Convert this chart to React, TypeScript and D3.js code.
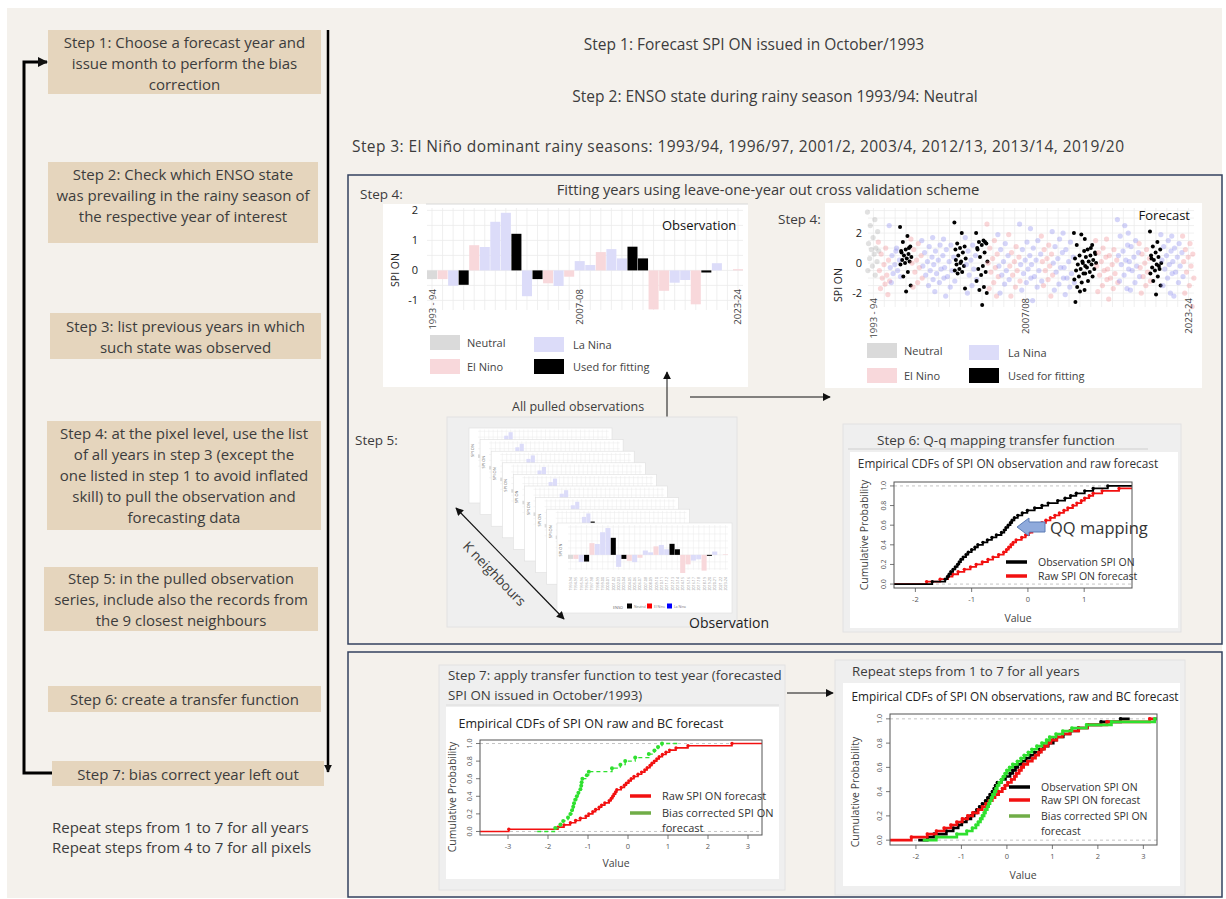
"use client";

import React, { useRef, useEffect } from "react";
import * as d3 from "d3";

const FONT = "'Open Sans', Lato, 'DejaVu Sans', sans-serif";
const INK = "#3c3c3c";

// ---- left column: the procedure
const step1Text = ["Step 1: Choose a forecast year and", "issue month to perform the bias", "correction"];
const step2Text = ["Step 2: Check which ENSO state", "was prevailing in the rainy season of", "the respective year of interest"];
const step3Text = ["Step 3: list previous years in which", "such state was observed"];
const step4Text = [
    "Step 4: at the pixel level, use the list",
    "of all years in step 3 (except the",
    "one listed in step 1 to avoid inflated",
    "skill) to pull the observation and",
    "forecasting data",
];
const step5Text = ["Step 5: in the pulled observation", "series, include also the records from", "the 9 closest neighbours"];
const step6Text = ["Step 6: create a transfer function"];
const step7Text = ["Step 7: bias correct year left out"];
const stepTexts = [step1Text, step2Text, step3Text, step4Text, step5Text, step6Text, step7Text];
const repeatText = ["Repeat steps from 1 to 7 for all years", "Repeat steps from 4 to 7 for all pixels"];

// ---- headline statements
const headline1 = "Step 1: Forecast SPI ON issued in October/1993";
const headline2 = "Step 2: ENSO state during rainy season 1993/94: Neutral";
const headline3 = "Step 3: El Niño dominant rainy seasons: 1993/94, 1996/97, 2001/2, 2003/4, 2012/13, 2013/14, 2019/20";

// ---- seasons, ENSO state (N neutral, E El Nino, L La Nina, F used for fitting)
const seasons = [
    "1993-94", "1994-95", "1995-96", "1996-97", "1997-98", "1998-99", "1999-00", "2000-01", "2001-02", "2002-03",
    "2003-04", "2004-05", "2005-06", "2006-07", "2007-08", "2008-09", "2009-10", "2010-11", "2011-12", "2012-13",
    "2013-14", "2014-15", "2015-16", "2016-17", "2017-18", "2018-19", "2019-20", "2020-21", "2021-22", "2023-24",
];
const ensoState = ["N", "E", "L", "F", "E", "L", "L", "L", "F", "L", "F", "E", "L", "E", "L", "L", "E", "L", "L", "F", "F", "E", "E", "L", "L", "E", "F", "L", "L", "E"];
const seasonTicks = ["1993-94", "2007-08", "2023-24"];
const seasonTickLabels = ["1993 - 94", "2007-08", "2023-24"];
const legendNames = ["Neutral", "El Nino", "La Nina", "Used for fitting"];

// observed SPI ON per season
const obsSpi = [-0.29, -0.29, -0.51, -0.48, 0.84, 0.78, 1.62, 1.92, 1.22, -0.86, -0.29, -0.43, -0.52, -0.21, 0.31, 0.18, 0.61, 0.71, 0.4, 0.79, 0.4, -1.3, -0.68, -0.41, -0.32, -1.13, -0.07, 0.24, 0, 0.04];

// forecast SPI ON ensemble members per season
const fcstSpi = [
    [3.4, 2.9, 2.5, 2.1, 1.7, 1.3, 1.0, 0.9, 0.8, 0.6, 0.3, 0.1, -0.2, -0.5, -0.8],
    [1.4, 1.0, 0.6, 0.2, -0.1, -0.5, -0.8, -1.0, -1.2, -1.4, -1.7, -2.1],
    [2.5, 1.0, 0.5, 0.2, -0.1, -0.3, -0.5, -0.7, -0.9, 0.8, -1.3],
    [2.4, 1.8, 1.4, 1.1, 0.9, 0.8, 0.6, 0.5, 0.4, 0.3, 0.2, 0.1, 0.0, -0.1, -0.6, -0.9, -1.5, -1.9, 0.7, 1.0],
    [1.6, 1.3, 0.9, 0.5, 0.2, 0.0, -0.3, -0.6, -1.0, -1.3, -1.6],
    [1.5, 1.1, 0.7, 0.4, 0.1, -0.2, -0.5, -0.8, -1.1, -1.5],
    [1.7, 1.2, 0.8, 0.5, 0.2, -0.1, -0.4, -0.7, -1.0, -1.3, -1.9],
    [1.6, 1.2, 0.9, 0.4, 0.1, -0.3, -0.5, -0.9, -1.2, -1.6, -2.2],
    [2.7, 2.0, 1.3, 1.1, 1.0, 0.9, 0.7, 0.5, 0.3, 0.1, -0.1, -0.2, -0.4, -0.5, -0.6, -0.7, -1.7, 0.0, 0.2],
    [1.7, 1.2, 0.8, 0.5, 0.2, -0.1, -0.4, -0.8, -1.1, -1.5, -2.0],
    [2.0, 1.5, 1.4, 1.3, 1.2, 1.0, 0.7, 0.4, 0.1, -0.2, -0.4, -0.6, -0.8, -1.2, -1.6, -1.8, -2.0, -2.8, 0.9, 1.4],
    [2.6, 1.5, 1.0, 0.6, 0.3, 0.0, -0.3, -0.6, -0.9, -1.3, -1.7, -2.2],
    [1.9, 1.3, 0.9, 0.5, 0.1, -0.2, -0.5, -0.8, -1.1, -1.4, -2.0],
    [1.9, 1.1, 0.7, 0.4, 0.1, -0.2, -0.5, -0.8, -1.2, -1.6, -2.2],
    [2.6, 1.4, 0.9, 0.5, 0.2, -0.1, -0.4, -0.7, -1.0, -1.3, -1.8],
    [2.3, 1.5, 1.0, 0.6, 0.2, -0.1, -0.5, -0.9, -1.2, -1.6, -2.5],
    [1.8, 1.2, 0.9, 0.6, 0.3, 0.1, -0.2, -0.5, -0.8, -1.1, -1.5, -2.2],
    [2.1, 1.6, 1.1, 0.7, 0.3, 0.0, -0.3, -0.6, -1.0, -1.4, -1.8],
    [2.0, 1.4, 0.9, 0.4, 0.1, -0.3, -0.7, -1.0, -1.3, -1.6, -2.1],
    [2.0, 1.9, 1.2, 0.8, 0.5, 0.3, 0.1, -0.1, -0.2, -0.4, -0.5, -0.7, -0.9, -1.1, -1.3, -1.6, -1.8, -1.9, -2.6, 0.0],
    [1.6, 1.2, 0.9, 0.7, 0.5, 0.4, 0.2, 0.1, 0.0, -0.1, -0.3, -0.4, -0.6, -0.7, -0.9, -1.2, 0.6, 1.0],
    [1.5, 1.0, 0.7, 0.4, 0.1, -0.2, -0.5, -0.8, -1.1, -1.5, -1.9],
    [1.6, 0.9, 0.5, 0.2, -0.1, -0.4, -0.7, -1.0, -1.3, -1.7, -2.4],
    [2.9, 2.5, 1.8, 1.2, 0.8, 0.5, 0.2, -0.1, -0.4, -0.8, -1.2, -1.7],
    [2.0, 1.5, 1.1, 0.7, 0.4, 0.1, -0.2, -0.5, -0.9, -1.3, -1.8],
    [1.3, 0.9, 0.6, 0.3, 0.0, -0.3, -0.6, -0.9, -1.2, -1.5, -2.0],
    [2.1, 1.4, 1.1, 0.9, 0.7, 0.5, 0.4, 0.2, 0.0, -0.1, -0.3, -0.4, -0.5, -0.7, -0.9, -1.2, -1.5, -2.1, 0.3, -0.2],
    [1.9, 1.5, 1.1, 0.8, 0.5, 0.2, -0.1, -0.4, -0.7, -1.0, -1.5, -2.0],
    [1.8, 1.3, 1.0, 0.7, 0.4, 0.1, -0.2, -0.6, -0.9, -1.3, -2.2],
    [1.8, 1.3, 0.9, 0.6, 0.4, 0.1, -0.2, -0.6, -1.0, -1.5, -2.0, -2.9],
];

// ---- empirical CDF samples (sorted SPI ON values)
const qqObs = [-1.7, -1.47, -1.43, -1.4, -1.37, -1.33, -1.29, -1.25, -1.22, -1.19, -1.15, -1.1, -1.06, -1.0, -0.94, -0.89, -0.8, -0.72, -0.64, -0.56, -0.47, -0.42, -0.39, -0.35, -0.31, -0.28, -0.24, -0.18, -0.1, -0.01, 0.12, 0.25, 0.36, 0.53, 0.66, 0.76, 0.86, 1.01, 1.16, 1.42];
const qqRaw = [-1.8, -1.56, -1.42, -1.34, -1.24, -1.13, -1.02, -0.92, -0.81, -0.71, -0.62, -0.52, -0.43, -0.38, -0.34, -0.3, -0.26, -0.21, -0.11, -0.04, 0.02, 0.08, 0.13, 0.2, 0.25, 0.32, 0.4, 0.48, 0.56, 0.64, 0.71, 0.8, 0.87, 0.95, 1.01, 1.09, 1.16, 1.32, 1.62, 2.2];
const testRaw = [-2.98, -1.75, -1.6, -1.44, -1.31, -1.19, -1.05, -0.98, -0.88, -0.81, -0.72, -0.66, -0.58, -0.47, -0.42, -0.38, -0.35, -0.31, -0.28, -0.17, -0.09, -0.04, 0.02, 0.08, 0.15, 0.25, 0.34, 0.42, 0.48, 0.55, 0.6, 0.66, 0.72, 0.78, 0.86, 0.95, 1.04, 1.2, 1.5, 2.6];
const testBc = [-1.82, -1.69, -1.62, -1.5, -1.44, -1.4, -1.37, -1.35, -1.32, -1.28, -1.24, -1.19, -1.17, -1.16, -1.14, -1.03, -0.98, -0.4, -0.19, -0.07, 0.18, 0.52, 0.66, 0.75, 0.85];
const allObs = [-1.75, -1.6, -1.33, -1.18, -1.07, -0.99, -0.89, -0.79, -0.72, -0.66, -0.6, -0.54, -0.47, -0.42, -0.37, -0.32, -0.28, -0.25, -0.21, -0.12, -0.03, 0.07, 0.13, 0.19, 0.24, 0.33, 0.42, 0.51, 0.61, 0.72, 0.8, 0.91, 1.02, 1.09, 1.24, 1.39, 1.57, 1.77, 2.07, 2.5];
const allRaw = [-2.1, -1.75, -1.55, -1.38, -1.23, -1.1, -0.98, -0.86, -0.75, -0.63, -0.54, -0.46, -0.39, -0.32, -0.26, -0.18, -0.1, -0.04, 0.02, 0.1, 0.17, 0.21, 0.27, 0.32, 0.37, 0.46, 0.56, 0.63, 0.7, 0.76, 0.83, 0.9, 0.97, 1.1, 1.22, 1.39, 1.58, 1.77, 2.2, 3.14];
const allBc = [-1.55, -1.1, -0.88, -0.76, -0.68, -0.63, -0.58, -0.54, -0.5, -0.47, -0.43, -0.4, -0.37, -0.34, -0.31, -0.27, -0.24, -0.21, -0.17, -0.12, -0.08, -0.04, 0.0, 0.06, 0.13, 0.23, 0.31, 0.38, 0.47, 0.55, 0.66, 0.77, 0.87, 0.94, 1.08, 1.23, 1.43, 1.75, 2.3, 3.25];

const ensoFill: Record<string, string> = { N: "#dadada", E: "#f8d8db", L: "#dcdcf9", F: "#000000" };
const dotFill: Record<string, string> = { N: "#a8a8a8", E: "#f08a8f", L: "#8787ef", F: "#000000" };
const RED = "#f21010";
const GREEN = "#2fe02f";
const LEG_GREEN = "#70ad47";

function label(g: any, x: number, y: number, s: string, size: number, opts: any = {}) {
    const t = g.append("text")
        .attr("x", x)
        .attr("y", y)
        .attr("font-family", FONT)
        .attr("font-size", size)
        .attr("fill", opts.fill || INK)
        .attr("text-anchor", opts.anchor || "start")
        .text(s);
    if (opts.rotate) t.attr("transform", `rotate(${opts.rotate},${x},${y})`);
    if (opts.weight) t.attr("font-weight", opts.weight);
    if (opts.len) t.attr("textLength", opts.len).attr("lengthAdjust", "spacing");
    return t;
}

function arrow(g: any, x1: number, y1: number, x2: number, y2: number, w: number, both = false, marker = "ah") {
    const l = g.append("line")
        .attr("x1", x1).attr("y1", y1).attr("x2", x2).attr("y2", y2)
        .attr("stroke", "#111").attr("stroke-width", w)
        .attr("marker-end", `url(#${marker})`);
    if (both) l.attr("marker-start", `url(#${marker})`);
}

// observation bar chart (ggplot style)
function drawBars(g: any, box: any, lo: number, hi: number, gridW: number) {
    const x = d3.scaleBand<string>().domain(seasons).range([box.x0, box.x1]).paddingInner(0.05);
    const y = d3.scaleLinear().domain([lo, hi]).range([box.yBot, box.yTop]);
    const grid = g.append("g").attr("stroke", "#ebebeb").attr("stroke-width", gridW);
    d3.range(Math.ceil(lo * 2) / 2, hi, 0.5).forEach((v) => {
        grid.append("line").attr("x1", box.x0).attr("x2", box.x1).attr("y1", y(v)).attr("y2", y(v));
    });
    seasons.forEach((s) => {
        const cx = x(s)! + x.bandwidth() / 2;
        grid.append("line").attr("x1", cx).attr("x2", cx).attr("y1", box.yTop).attr("y2", box.yBot);
    });
    g.append("g").selectAll("rect").data(obsSpi).enter().append("rect")
        .attr("x", (_d: number, i: number) => x(seasons[i])!)
        .attr("width", x.bandwidth())
        .attr("y", (d: number) => y(Math.max(0, d)))
        .attr("height", (d: number) => Math.abs(y(d) - y(0)))
        .attr("fill", (_d: number, i: number) => ensoFill[ensoState[i]]);
    return { x, y };
}

function drawLegend(g: any, x0: number, x1: number, y0: number, y1: number, size: number) {
    const items = [
        { key: "N", name: legendNames[0], x: x0, y: y0 },
        { key: "E", name: legendNames[1], x: x0, y: y1 },
        { key: "L", name: legendNames[2], x: x1, y: y0 + 2 },
        { key: "F", name: legendNames[3], x: x1, y: y1 },
    ];
    items.forEach((it) => {
        g.append("rect").attr("x", it.x).attr("y", it.y).attr("width", 30).attr("height", 15).attr("fill", ensoFill[it.key]);
        label(g, it.x + (it.x === x0 ? 37 : 39), it.y + 12, it.name, size, { fill: "#444" });
    });
}

interface Cdf { values: number[]; color: string; dash?: string; ext?: number; r?: number; width?: number }

// R-style plot.ecdf panel
function drawEcdf(g: any, box: any, xDomain: [number, number], xTicks: number[], series: Cdf[], clipId: string) {
    const x = d3.scaleLinear().domain(xDomain).range([box.x, box.x + box.w]);
    const y = d3.scaleLinear().domain([-0.04, 1.04]).range([box.y + box.h, box.y]);
    g.append("clipPath").attr("id", clipId).append("rect")
        .attr("x", box.x).attr("y", box.y).attr("width", box.w).attr("height", box.h);
    [0, 1].forEach((p) => {
        g.append("line").attr("x1", box.x).attr("x2", box.x + box.w).attr("y1", y(p)).attr("y2", y(p))
            .attr("stroke", "#b5b5b5").attr("stroke-dasharray", "3,3").attr("stroke-width", 0.8);
    });
    const plot = g.append("g").attr("clip-path", `url(#${clipId})`);
    const line = d3.line<number[]>().x((d) => x(d[0])).y((d) => y(d[1])).curve(d3.curveStepAfter);
    series.forEach((s) => {
        const vals = s.values.slice().sort((a, b) => a - b);
        const n = vals.length;
        const pts = vals.map((v, i) => [v, (i + 1) / n]);
        const lo = s.ext !== undefined ? vals[0] - s.ext : xDomain[0] - 1;
        const hi = s.ext !== undefined ? vals[n - 1] + s.ext : xDomain[1] + 1;
        plot.append("path")
            .datum([[lo, 0], ...pts, [hi, 1]])
            .attr("d", line)
            .attr("fill", "none")
            .attr("stroke", s.color)
            .attr("stroke-width", s.width || 1.6)
            .attr("stroke-dasharray", s.dash || null);
        plot.append("g").selectAll("circle").data(pts).enter().append("circle")
            .attr("cx", (d: number[]) => x(d[0]))
            .attr("cy", (d: number[]) => y(d[1]))
            .attr("r", s.r || 1.7)
            .attr("fill", s.color);
    });
    g.append("rect").attr("x", box.x).attr("y", box.y).attr("width", box.w).attr("height", box.h)
        .attr("fill", "none").attr("stroke", "#555").attr("stroke-width", 1);
    xTicks.forEach((t) => {
        g.append("line").attr("x1", x(t)).attr("x2", x(t)).attr("y1", box.y + box.h).attr("y2", box.y + box.h + 4)
            .attr("stroke", "#555").attr("stroke-width", 0.8);
        label(g, x(t), box.y + box.h + 14, String(t), 7.5, { anchor: "middle", fill: "#555" });
    });
    [0, 0.2, 0.4, 0.6, 0.8, 1].forEach((t) => {
        g.append("line").attr("x1", box.x - 4).attr("x2", box.x).attr("y1", y(t)).attr("y2", y(t))
            .attr("stroke", "#555").attr("stroke-width", 0.8);
        label(g, box.x - 8, y(t), t.toFixed(1), 7, { anchor: "middle", fill: "#555", rotate: -90 });
    });
    return { x, y };
}

function legendRows(g: any, x: number, rows: { y: number; color: string; text: string[] }[], size: number) {
    rows.forEach((r) => {
        g.append("line").attr("x1", x).attr("x2", x + 21).attr("y1", r.y).attr("y2", r.y)
            .attr("stroke", r.color).attr("stroke-width", 3.5);
        r.text.forEach((t, i) => label(g, x + 32, r.y + 4 + i * 15, t, size, { fill: "#333" }));
    });
}

function drawMiniCard(g: any, cx: number, cy: number, w: number, h: number, idx: number, front: boolean) {
    const card = g.append("g");
    card.append("clipPath").attr("id", `card${idx}`).append("rect").attr("x", cx).attr("y", cy).attr("width", w).attr("height", h);
    card.append("rect").attr("x", cx).attr("y", cy).attr("width", w).attr("height", h)
        .attr("fill", "#fff").attr("stroke", "#dedede").attr("stroke-width", 0.6);
    const inner = card.append("g").attr("clip-path", `url(#card${idx})`);
    const box = { x0: cx + 0.063 * w, x1: cx + 0.977 * w, yTop: cy + 0.022 * h, yBot: cy + 0.52 * h };
    const sc = drawBars(inner, box, -1.07, 2.14, 0.5);
    label(inner, cx + 5, cy + 0.3 * h, "SPI ON", 4, { anchor: "middle", rotate: -90, fill: "#666" });
    if (front) {
        seasons.forEach((s) => {
            const px = sc.x(s)! + sc.x.bandwidth() / 2;
            label(inner, px + 1.5, cy + 0.6 * h, s, 3.6, { anchor: "end", rotate: -90, fill: "#999" });
        });
        const ly = cy + 0.95 * h;
        label(inner, cx + 56, ly, "ENSO", 3.8, { fill: "#666" });
        const keys = [["#000", "Neutral"], ["#f00", "El Nino"], ["#00f", "La Nina"]];
        keys.forEach((k, i) => {
            const kx = cx + 70 + i * 20;
            inner.append("rect").attr("x", kx).attr("y", ly - 5).attr("width", 5).attr("height", 5).attr("fill", k[0]);
            label(inner, kx + 7, ly - 1, k[1], 3.4, { fill: "#777" });
        });
    }
}

function draw(svgEl: SVGSVGElement) {
    const svg = d3.select(svgEl);
    svg.selectAll("*").remove();

    const defs = svg.append("defs");
    const mk = (id: string, size: number) => {
        defs.append("marker").attr("id", id)
            .attr("viewBox", "0 0 10 10").attr("refX", 9).attr("refY", 5)
            .attr("markerWidth", size).attr("markerHeight", size)
            .attr("markerUnits", "userSpaceOnUse")
            .attr("orient", "auto-start-reverse")
            .append("path").attr("d", "M0,0L10,5L0,10z").attr("fill", "#111");
    };
    mk("ah", 8);
    mk("ahBig", 10);

    svg.append("rect").attr("width", 1226).attr("height", 899).attr("fill", "#ffffff");
    svg.append("rect").attr("x", 7).attr("y", 8).attr("width", 1215).attr("height", 890).attr("fill", "#f4f1ec");

    // ---- left column
    const boxes = [
        { x: 48, y: 30, w: 273, h: 64, c: 43 },
        { x: 48, y: 162, w: 270, h: 81, c: 175 },
        { x: 50, y: 313, w: 271, h: 46, c: 327 },
        { x: 47, y: 421, w: 274, h: 109, c: 434 },
        { x: 44, y: 567, w: 274, h: 64, c: 579 },
        { x: 48, y: 686, w: 273, h: 26, c: 700 },
        { x: 52, y: 761, w: 272, h: 25, c: 775 },
    ];
    const left = svg.append("g");
    boxes.forEach((b, i) => {
        left.append("rect").attr("x", b.x).attr("y", b.y).attr("width", b.w).attr("height", b.h).attr("fill", "#e5d5bd");
        stepTexts[i].forEach((t, j) => label(left, b.x + b.w / 2, b.c + 5 + j * 21, t, 15, { anchor: "middle" }));
    });
    left.append("path").attr("d", "M52,773H24V62H47").attr("fill", "none").attr("stroke", "#000").attr("stroke-width", 3)
        .attr("marker-end", "url(#ahBig)");
    left.append("line").attr("x1", 328).attr("x2", 328).attr("y1", 30).attr("y2", 772)
        .attr("stroke", "#000").attr("stroke-width", 2.5).attr("marker-end", "url(#ah)");
    repeatText.forEach((t, j) => label(left, 52, 833 + j * 20, t, 15));

    // ---- headlines
    label(svg, 754, 50, headline1, 15.5, { anchor: "middle" });
    label(svg, 775, 102, headline2, 15.5, { anchor: "middle" });
    label(svg, 352, 152, headline3, 15.5, { len: 772 });

    // ---- panel A
    const pa = svg.append("g");
    pa.append("rect").attr("x", 348).attr("y", 175).attr("width", 874).attr("height", 469)
        .attr("fill", "none").attr("stroke", "#33415f").attr("stroke-width", 1.5);
    label(pa, 360, 199, "Step 4:", 13.5);
    label(pa, 768, 195, "Fitting years using leave-one-year out cross validation scheme", 14.7, { anchor: "middle" });

    // observation bars
    pa.append("rect").attr("x", 383).attr("y", 204).attr("width", 365).attr("height", 183).attr("fill", "#fff");
    pa.append("line").attr("x1", 426).attr("x2", 748).attr("y1", 204).attr("y2", 204).attr("stroke", "#d8d8d8");
    const ob = drawBars(pa.append("g"), { x0: 427, x1: 743, yTop: 208, yBot: 310 }, -1.32, 2.08, 0.8);
    [2, 1, 0, -1].forEach((v) => label(pa, 418, ob.y(v) + 4, String(v), 11, { anchor: "end", fill: "#222" }));
    label(pa, 399, 270, "SPI ON", 10.5, { anchor: "middle", rotate: -90, fill: "#222" });
    seasonTicks.forEach((s, i) => {
        const px = ob.x(s)! + ob.x.bandwidth() / 2 + 3.5;
        label(pa, px, 289, seasonTickLabels[i], 9.5, { anchor: "end", rotate: -90, fill: "#444" });
    });
    label(pa, 662, 230, "Observation", 13, { fill: "#111" });
    drawLegend(pa, 430, 534, 335, 359, 11);

    // forecast scatter
    label(pa, 778, 224, "Step 4:", 13.5);
    pa.append("rect").attr("x", 825).attr("y", 203).attr("width", 377).attr("height", 185).attr("fill", "#fff");
    const xs = d3.scaleBand<string>().domain(seasons).range([868, 1194]);
    const ys = d3.scaleLinear().domain([-2.93, 3.67]).range([307, 208]);
    const sg = pa.append("g").attr("stroke", "#ececec").attr("stroke-width", 0.8);
    d3.range(-2.5, 3.6, 0.5).forEach((v) => sg.append("line").attr("x1", 868).attr("x2", 1194).attr("y1", ys(v)).attr("y2", ys(v)));
    seasons.forEach((s) => {
        const cx = xs(s)! + xs.bandwidth() / 2;
        sg.append("line").attr("x1", cx).attr("x2", cx).attr("y1", 208).attr("y2", 307);
    });
    const dots = pa.append("g");
    fcstSpi.forEach((vals, i) => {
        const st = ensoState[i];
        vals.forEach((v, j) => {
            const jit = (((j * 0.618034) % 1) - 0.5) * xs.bandwidth() * 1.1;
            dots.append("circle")
                .attr("cx", xs(seasons[i])! + xs.bandwidth() / 2 + jit)
                .attr("cy", ys(v))
                .attr("r", st === "F" ? 2 : 2.6)
                .attr("fill", dotFill[st])
                .attr("fill-opacity", st === "F" ? 1 : 0.35);
        });
    });
    [2, 0, -2].forEach((v) => label(pa, 862, ys(v) + 4, String(v), 11, { anchor: "end", fill: "#222" }));
    label(pa, 842, 285, "SPI ON", 10.5, { anchor: "middle", rotate: -90, fill: "#222" });
    seasonTicks.forEach((s, i) => {
        const px = xs(s)! + xs.bandwidth() / 2 + 3.5;
        label(pa, px, 298, i === 1 ? "2007/08" : seasonTickLabels[i], 9.5, { anchor: "end", rotate: -90, fill: "#444" });
    });
    label(pa, 1190, 220, "Forecast", 13, { anchor: "end", fill: "#111" });
    drawLegend(pa, 867, 969, 343, 368, 11);

    // connectors
    label(pa, 512, 411, "All pulled observations", 12.5);
    arrow(pa, 667, 372, 667, 425, 1, true);
    arrow(pa, 690, 397, 830, 397, 1);

    // step 5: neighbour stack
    label(pa, 355, 445, "Step 5:", 13.5);
    pa.append("rect").attr("x", 447).attr("y", 417).attr("width", 290).attr("height", 210)
        .attr("fill", "#efefef").attr("stroke", "#e2e2e2");
    const stack = pa.append("g");
    for (let i = 0; i < 8; i++) {
        drawMiniCard(stack, 469 + i * 11.1, 428 + i * 11.6, 143, 75, i, false);
    }
    drawMiniCard(stack, 557, 523, 175, 90, 8, true);
    arrow(pa, 456, 508, 564, 619, 1.2, true);
    label(pa, 491, 577, "K neighbours", 13.5, { anchor: "middle", rotate: 46 });
    label(pa, 689, 628, "Observation", 14, { fill: "#222" });

    // step 6: Q-q mapping
    pa.append("rect").attr("x", 843).attr("y", 424).attr("width", 338).attr("height", 208)
        .attr("fill", "#efefef").attr("stroke", "#e2e2e2");
    label(pa, 877, 445, "Step 6: Q-q mapping transfer function", 13.5);
    pa.append("line").attr("x1", 848).attr("x2", 1148).attr("y1", 449).attr("y2", 449).attr("stroke", "#cfcfcf");
    pa.append("rect").attr("x", 850).attr("y", 452).attr("width", 328).attr("height", 176).attr("fill", "#fff");
    label(pa, 1008, 468, "Empirical CDFs of SPI ON observation and raw forecast", 11.8, { anchor: "middle", fill: "#333" });
    drawEcdf(pa.append("g"), { x: 894, y: 482, w: 238, h: 106 }, [-2.38, 1.85], [-2, -1, 0, 1], [
        { values: qqRaw, color: RED, width: 1.8 },
        { values: qqObs, color: "#000", width: 1.8 },
    ], "clip6");
    label(pa, 868, 535, "Cumulative Probability", 10.5, { anchor: "middle", rotate: -90, fill: "#444" });
    label(pa, 1018, 622, "Value", 10.5, { anchor: "middle", fill: "#444" });
    pa.append("path")
        .attr("d", "M1017,527L1029,518V522H1045V532H1029V536Z")
        .attr("fill", "#8faadc").attr("stroke", "#5b7bb4").attr("stroke-width", 1);
    label(pa, 1050, 534, "QQ mapping", 16.5, { fill: "#333" });
    legendRows(pa, 1006, [
        { y: 562, color: "#000", text: ["Observation SPI ON"] },
        { y: 576, color: RED, text: ["Raw SPI ON forecast"] },
    ], 10.5);

    // ---- panel B
    const pb = svg.append("g");
    pb.append("rect").attr("x", 348).attr("y", 652).attr("width", 874).attr("height", 245)
        .attr("fill", "none").attr("stroke", "#33415f").attr("stroke-width", 1.5);

    // step 7: test year
    pb.append("rect").attr("x", 439).attr("y", 665).attr("width", 346).attr("height", 225)
        .attr("fill", "#efefef").attr("stroke", "#e2e2e2");
    label(pb, 448, 680, "Step 7: apply transfer function to test year (forecasted", 13.3);
    label(pb, 448, 700, "SPI ON issued in October/1993)", 13.3);
    pb.append("line").attr("x1", 446).attr("x2", 779).attr("y1", 705).attr("y2", 705).attr("stroke", "#dcdcdc");
    pb.append("rect").attr("x", 446).attr("y", 707).attr("width", 333).attr("height", 172).attr("fill", "#fff");
    label(pb, 591, 728, "Empirical CDFs of SPI ON raw and BC forecast", 12.5, { anchor: "middle", fill: "#222" });
    drawEcdf(pb.append("g"), { x: 480, y: 740, w: 282, h: 95 }, [-3.7, 3.35], [-3, -2, -1, 0, 1, 2, 3], [
        { values: testRaw, color: RED, width: 1.6 },
        { values: testBc, color: GREEN, dash: "4,3", ext: 0.45, width: 1.3, r: 2 },
    ], "clip7");
    label(pb, 456, 797, "Cumulative Probability", 10.5, { anchor: "middle", rotate: -90, fill: "#444" });
    label(pb, 616, 867, "Value", 10.5, { anchor: "middle", fill: "#444" });
    legendRows(pb, 630, [
        { y: 796, color: RED, text: ["Raw SPI ON forecast"] },
        { y: 813, color: LEG_GREEN, text: ["Bias corrected SPI ON", "forecast"] },
    ], 11);
    arrow(pb, 787, 693, 833, 693, 1);

    // repeat for all years
    pb.append("rect").attr("x", 835).attr("y", 660).attr("width", 350).attr("height", 235)
        .attr("fill", "#efefef").attr("stroke", "#e2e2e2");
    label(pb, 852, 676, "Repeat steps from 1 to 7 for all years", 13.3);
    pb.append("rect").attr("x", 843).attr("y", 683).attr("width", 337).attr("height", 203).attr("fill", "#fff");
    label(pb, 1015, 701, "Empirical CDFs of SPI ON observations, raw and BC forecast", 11.8, { anchor: "middle", fill: "#222" });
    drawEcdf(pb.append("g"), { x: 890, y: 714, w: 267, h: 131 }, [-2.57, 3.3], [-2, -1, 0, 1, 2, 3], [
        { values: allObs, color: "#000", width: 2.6, r: 1.8, ext: 0.2 },
        { values: allRaw, color: RED, width: 2.6, r: 1.8 },
        { values: allBc, color: GREEN, width: 2.6, r: 1.8, ext: 0.3 },
    ], "clipAll");
    label(pb, 859, 792, "Cumulative Probability", 10.5, { anchor: "middle", rotate: -90, fill: "#444" });
    label(pb, 1023, 879, "Value", 10.5, { anchor: "middle", fill: "#444" });
    legendRows(pb, 1009, [
        { y: 787, color: "#000", text: ["Observation SPI ON"] },
        { y: 800, color: RED, text: ["Raw SPI ON forecast"] },
        { y: 816, color: LEG_GREEN, text: ["Bias corrected SPI ON", "forecast"] },
    ], 10.5);
}

export default function App() {
    const svgRef = useRef<SVGSVGElement>(null);

    useEffect(() => {
        if (!svgRef.current) return;
        draw(svgRef.current);
    }, []);

    return (
        <div style={{ position: "absolute", left: 0, top: 0 }}>
            <svg ref={svgRef} width={1226} height={899} style={{ display: "block" }} />
        </div>
    );
}
